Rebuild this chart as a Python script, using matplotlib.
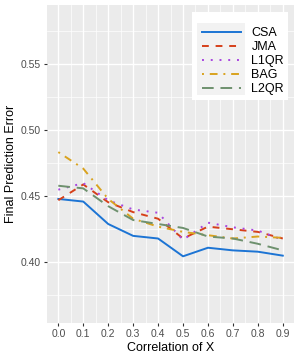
import numpy as np
import matplotlib
matplotlib.use("Agg")
import matplotlib.pyplot as plt
from matplotlib.ticker import MultipleLocator
from matplotlib.patches import Rectangle

plt.rcParams['font.family'] = ['Liberation Sans', 'DejaVu Sans']

## values
corr = [0.0, 0.1, 0.2, 0.3, 0.4, 0.5, 0.6, 0.7, 0.8, 0.9]
csa  = [0.448, 0.446, 0.429, 0.420, 0.418, 0.4045, 0.411, 0.409, 0.408, 0.405]
jma  = [0.447, 0.459, 0.4455, 0.438, 0.433, 0.418, 0.427, 0.425, 0.423, 0.418]
l1qr = [0.455, 0.460, 0.447, 0.440, 0.4375, 0.417, 0.430, 0.4265, 0.424, 0.417]
bag  = [0.4835, 0.471, 0.448, 0.433, 0.427, 0.423, 0.4205, 0.418, 0.4195, 0.4185]
l2qr = [0.458, 0.456, 0.4425, 0.432, 0.429, 0.426, 0.4195, 0.418, 0.414, 0.409]

names = ["CSA", "JMA", "L1QR", "BAG", "L2QR"]
series = [csa, jma, l1qr, bag, l2qr]
colors = ["#1C74D4", "#D6401A", "#A845E0", "#D9A21E", "#6E916E"]
styles = ["-", (0, (3.5, 3.5)), (0, (1, 3.5)), (0, (1, 3, 4, 3)), (0, (6, 3.5))]

fig = plt.figure(figsize=(3.0, 3.6), dpi=100)
ax = fig.add_axes([0.157, 0.103, 0.823, 0.883])
ax.set_facecolor("#EBEBEB")
for s in ax.spines.values():
    s.set_visible(False)

for name, y, c, ls in zip(names, series, colors, styles):
    ax.plot(corr, y, color=c, linestyle=ls, linewidth=1.4, label=name)

ax.set_xlim(-0.045, 0.945)
ax.set_ylim(0.354, 0.595)
ax.set_xticks(corr)
ax.set_xticklabels(["{:.1f}".format(v) for v in corr])
ax.set_yticks([0.40, 0.45, 0.50, 0.55])
ax.set_yticklabels(["0.40", "0.45", "0.50", "0.55"])
ax.xaxis.set_minor_locator(MultipleLocator(0.05))
ax.yaxis.set_minor_locator(MultipleLocator(0.025))
ax.grid(which="major", color="white", linewidth=1.0)
ax.grid(which="minor", color="white", linewidth=0.5)
ax.set_axisbelow(True)
ax.tick_params(which="major", length=2.5, width=0.8, color="#333333",
               labelsize=7.5, labelcolor="#4D4D4D", pad=2)
ax.tick_params(which="minor", length=0)

ax.set_xlabel("Correlation of X", fontsize=9, labelpad=2)
ax.set_ylabel("Final Prediction Error", fontsize=9, labelpad=3)

# ggplot style legend: white box, light grey behind the keys
ax.add_patch(Rectangle((0.587, 0.701), 0.389, 0.277, transform=ax.transAxes,
                       facecolor="white", edgecolor="none", zorder=4))
ax.add_patch(Rectangle((0.607, 0.717), 0.195, 0.226, transform=ax.transAxes,
                       facecolor="#F2F2F2", edgecolor="none", zorder=4.5))
leg = ax.legend(loc="upper left", bbox_to_anchor=(0.6275, 0.931), fontsize=9,
                frameon=False, handlelength=3.1, handletextpad=0.85,
                labelspacing=0.17, borderpad=0, borderaxespad=0)

fig.savefig("out.png", dpi=100)
